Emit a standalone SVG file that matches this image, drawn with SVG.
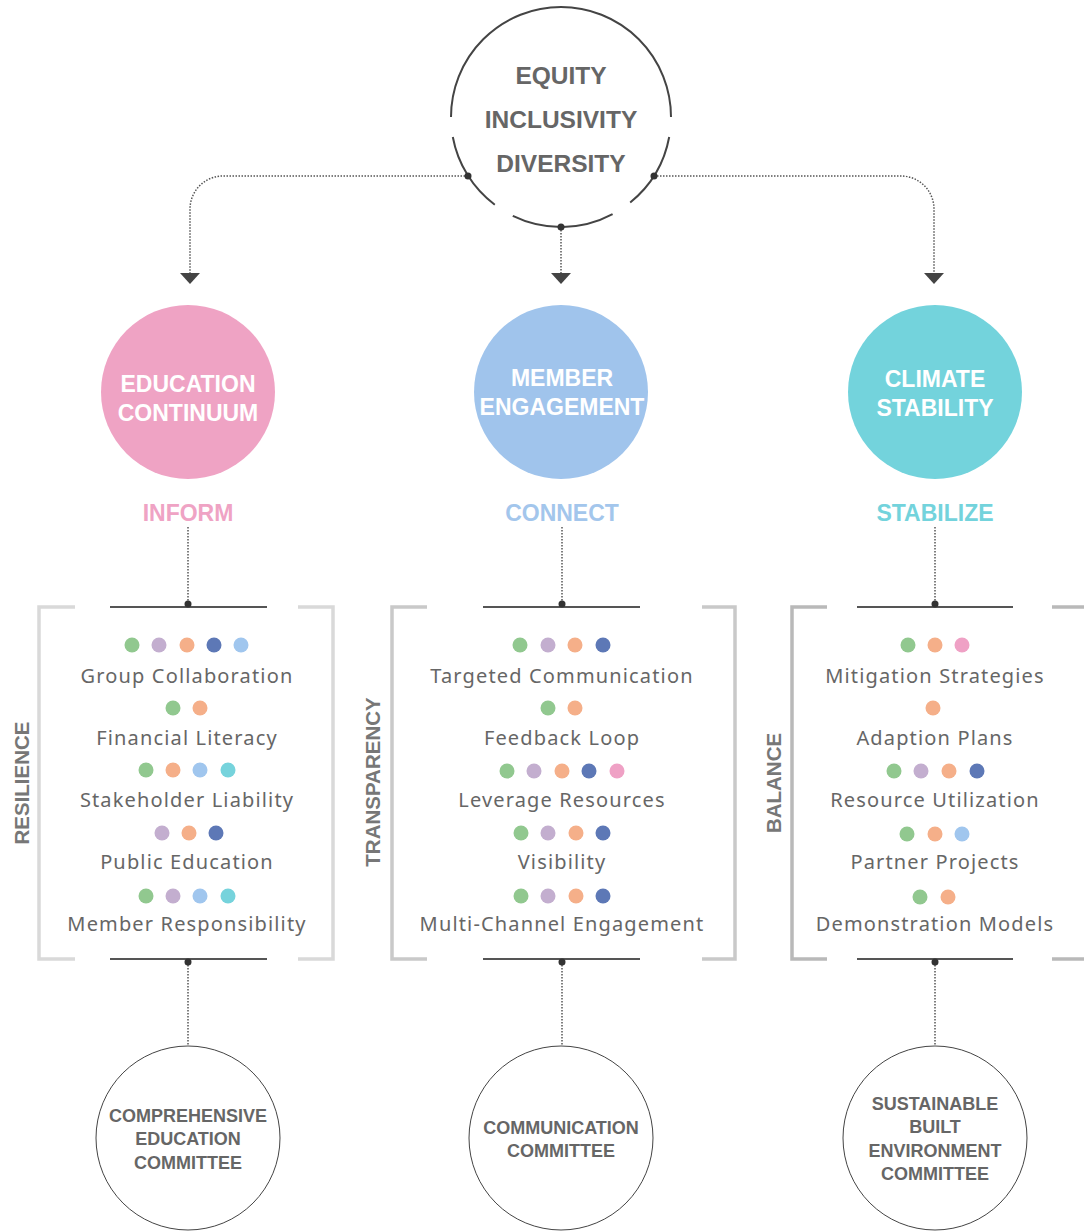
<svg xmlns="http://www.w3.org/2000/svg" width="1084" height="1232" viewBox="0 0 1084 1232">
<style>
.top{font-family:"Liberation Sans",Arial,sans-serif;font-weight:bold;font-size:24.5px;fill:#666;text-anchor:middle}
.big{font-family:"Liberation Sans",Arial,sans-serif;font-weight:bold;font-size:23px;fill:#fff;text-anchor:middle}
.verb{font-family:"Liberation Sans",Arial,sans-serif;font-weight:bold;font-size:23px;text-anchor:middle}
.side{font-family:"Liberation Sans",Arial,sans-serif;font-weight:bold;font-size:20.5px;fill:#777;text-anchor:middle}
.item{font-family:"Noto Sans","Open Sans",sans-serif;font-size:20px;fill:#666;text-anchor:middle;letter-spacing:1.15px}
.com{font-family:"Liberation Sans",Arial,sans-serif;font-weight:bold;font-size:18px;fill:#666;text-anchor:middle}
.dot{stroke:#555;stroke-width:1.5;stroke-dasharray:1.5 1.5;fill:none}
.bar{stroke:#555;stroke-width:2;fill:none}
.arc{stroke:#444;stroke-width:2;fill:none}
.ring{stroke:#444;stroke-width:1;fill:#fff}
.g{fill:#91C88F}.p{fill:#C3AECF}.o{fill:#F5AF89}.d{fill:#5D78B6}.l{fill:#A0C6EE}.t{fill:#76D3DC}.k{fill:#EFA1C5}
</style>

<g id="connectors">
<path class="dot" d="M468,176 H223 A33,33 0 0 0 190,209 V273"/>
<path class="dot" d="M654,176 H901 A33,33 0 0 1 934,209 V273"/>
<path class="dot" d="M561,227 V273"/>
<path d="M180,273 L200,273 L190,284 Z" fill="#444"/>
<path d="M551,273 L571,273 L561,284 Z" fill="#444"/>
<path d="M924,273 L944,273 L934,284 Z" fill="#444"/>
<path class="dot" d="M188,527 V604"/>
<path class="dot" d="M562,527 V604"/>
<path class="dot" d="M935,527 V604"/>
<path class="dot" d="M188,962 V1046"/>
<path class="dot" d="M562,962 V1046"/>
<path class="dot" d="M935,962 V1046"/>
</g>

<g id="values">
<path class="arc" d="M451,117 A110,110 0 0 1 671,117"/>
<path class="arc" d="M669.2,137 A110,110 0 0 1 630.2,202.5"/>
<path class="arc" d="M612.6,214.1 A110,110 0 0 1 512.8,215.9"/>
<path class="arc" d="M494.8,204.8 A110,110 0 0 1 452.8,137"/>
<circle cx="468" cy="176" r="3.5" fill="#333"/>
<circle cx="654" cy="176" r="3.5" fill="#333"/>
<circle cx="561" cy="227" r="3.5" fill="#333"/>
<text class="top" x="561" y="84">EQUITY</text>
<text class="top" x="561" y="128">INCLUSIVITY</text>
<text class="top" x="561" y="172">DIVERSITY</text>
</g>

<g id="education">
<circle cx="188" cy="392" r="87" fill="#EFA3C4"/>
<text class="big" x="188" y="392">EDUCATION</text>
<text class="big" x="188" y="421">CONTINUUM</text>
<text class="verb" x="188" y="521" fill="#EFA3C4">INFORM</text>
</g>
<g id="member">
<circle cx="561" cy="392" r="87" fill="#A0C4EC"/>
<text class="big" x="562" y="386">MEMBER</text>
<text class="big" x="562" y="415">ENGAGEMENT</text>
<text class="verb" x="562" y="521" fill="#A3C6EC">CONNECT</text>
</g>
<g id="climate">
<circle cx="935" cy="392" r="87" fill="#73D3DC"/>
<text class="big" x="935" y="387">CLIMATE</text>
<text class="big" x="935" y="416">STABILITY</text>
<text class="verb" x="935" y="521" fill="#73D3DC">STABILIZE</text>
</g>

<g id="resilience">
<path d="M75,607 H39 V959 H75 M298,607 H333 V959 H298" stroke="#d9d9d9" stroke-width="3.5" fill="none"/>
<path class="bar" d="M110,607 H267 M110,959 H267"/>
<circle cx="188" cy="604" r="3.5" fill="#333"/>
<circle cx="188" cy="962" r="3.5" fill="#333"/>
<text class="side" transform="translate(29,783) rotate(-90)">RESILIENCE</text>
<circle class="g" cx="132" cy="645" r="7.5"/><circle class="p" cx="159" cy="645" r="7.5"/><circle class="o" cx="187" cy="645" r="7.5"/><circle class="d" cx="214" cy="645" r="7.5"/><circle class="l" cx="241" cy="645" r="7.5"/>
<text class="item" x="187" y="683">Group Collaboration</text>
<circle class="g" cx="173" cy="708" r="7.5"/><circle class="o" cx="200" cy="708" r="7.5"/>
<text class="item" x="187" y="745">Financial Literacy</text>
<circle class="g" cx="146" cy="770" r="7.5"/><circle class="o" cx="173" cy="770" r="7.5"/><circle class="l" cx="200" cy="770" r="7.5"/><circle class="t" cx="228" cy="770" r="7.5"/>
<text class="item" x="187" y="807">Stakeholder Liability</text>
<circle class="p" cx="162" cy="833" r="7.5"/><circle class="o" cx="189" cy="833" r="7.5"/><circle class="d" cx="216" cy="833" r="7.5"/>
<text class="item" x="187" y="869">Public Education</text>
<circle class="g" cx="146" cy="896" r="7.5"/><circle class="p" cx="173" cy="896" r="7.5"/><circle class="l" cx="200" cy="896" r="7.5"/><circle class="t" cx="228" cy="896" r="7.5"/>
<text class="item" x="187" y="931">Member Responsibility</text>
</g>

<g id="transparency">
<path d="M427,607 H392 V959 H427 M702,607 H735 V959 H702" stroke="#c9c9c9" stroke-width="3.5" fill="none"/>
<path class="bar" d="M483,607 H640 M483,959 H640"/>
<circle cx="562" cy="604" r="3.5" fill="#333"/>
<circle cx="562" cy="962" r="3.5" fill="#333"/>
<text class="side" transform="translate(380,782) rotate(-90)">TRANSPARENCY</text>
<circle class="g" cx="520" cy="645" r="7.5"/><circle class="p" cx="548" cy="645" r="7.5"/><circle class="o" cx="575" cy="645" r="7.5"/><circle class="d" cx="603" cy="645" r="7.5"/>
<text class="item" x="562" y="683">Targeted Communication</text>
<circle class="g" cx="548" cy="708" r="7.5"/><circle class="o" cx="575" cy="708" r="7.5"/>
<text class="item" x="562" y="745">Feedback Loop</text>
<circle class="g" cx="507" cy="771" r="7.5"/><circle class="p" cx="534" cy="771" r="7.5"/><circle class="o" cx="562" cy="771" r="7.5"/><circle class="d" cx="589" cy="771" r="7.5"/><circle class="k" cx="617" cy="771" r="7.5"/>
<text class="item" x="562" y="807">Leverage Resources</text>
<circle class="g" cx="521" cy="833" r="7.5"/><circle class="p" cx="548" cy="833" r="7.5"/><circle class="o" cx="576" cy="833" r="7.5"/><circle class="d" cx="603" cy="833" r="7.5"/>
<text class="item" x="562" y="869">Visibility</text>
<circle class="g" cx="521" cy="896" r="7.5"/><circle class="p" cx="548" cy="896" r="7.5"/><circle class="o" cx="576" cy="896" r="7.5"/><circle class="d" cx="603" cy="896" r="7.5"/>
<text class="item" x="562" y="931">Multi-Channel Engagement</text>
</g>

<g id="balance">
<path d="M827,607 H792 V959 H827 M1052,607 H1092 V959 H1052" stroke="#b9b9b9" stroke-width="3.5" fill="none"/>
<path class="bar" d="M857,607 H1013 M857,959 H1013"/>
<circle cx="935" cy="604" r="3.5" fill="#333"/>
<circle cx="935" cy="962" r="3.5" fill="#333"/>
<text class="side" transform="translate(781,783) rotate(-90)">BALANCE</text>
<circle class="g" cx="908" cy="645" r="7.5"/><circle class="o" cx="935" cy="645" r="7.5"/><circle class="k" cx="962" cy="645" r="7.5"/>
<text class="item" x="935" y="683">Mitigation Strategies</text>
<circle class="o" cx="933" cy="708" r="7.5"/>
<text class="item" x="935" y="745">Adaption Plans</text>
<circle class="g" cx="894" cy="771" r="7.5"/><circle class="p" cx="921" cy="771" r="7.5"/><circle class="o" cx="949" cy="771" r="7.5"/><circle class="d" cx="977" cy="771" r="7.5"/>
<text class="item" x="935" y="807">Resource Utilization</text>
<circle class="g" cx="907" cy="834" r="7.5"/><circle class="o" cx="935" cy="834" r="7.5"/><circle class="l" cx="962" cy="834" r="7.5"/>
<text class="item" x="935" y="869">Partner Projects</text>
<circle class="g" cx="920" cy="897" r="7.5"/><circle class="o" cx="948" cy="897" r="7.5"/>
<text class="item" x="935" y="931">Demonstration Models</text>
</g>

<g id="committee-education">
<circle class="ring" cx="188" cy="1138" r="92"/>
<text class="com" x="188" y="1122">COMPREHENSIVE</text>
<text class="com" x="188" y="1145">EDUCATION</text>
<text class="com" x="188" y="1169">COMMITTEE</text>
</g>
<g id="committee-communication">
<circle class="ring" cx="561" cy="1138" r="92"/>
<text class="com" x="561" y="1134">COMMUNICATION</text>
<text class="com" x="561" y="1157">COMMITTEE</text>
</g>
<g id="committee-sbe">
<circle class="ring" cx="935" cy="1138" r="92"/>
<text class="com" x="935" y="1110">SUSTAINABLE</text>
<text class="com" x="935" y="1133">BUILT</text>
<text class="com" x="935" y="1157">ENVIRONMENT</text>
<text class="com" x="935" y="1180">COMMITTEE</text>
</g>
</svg>
